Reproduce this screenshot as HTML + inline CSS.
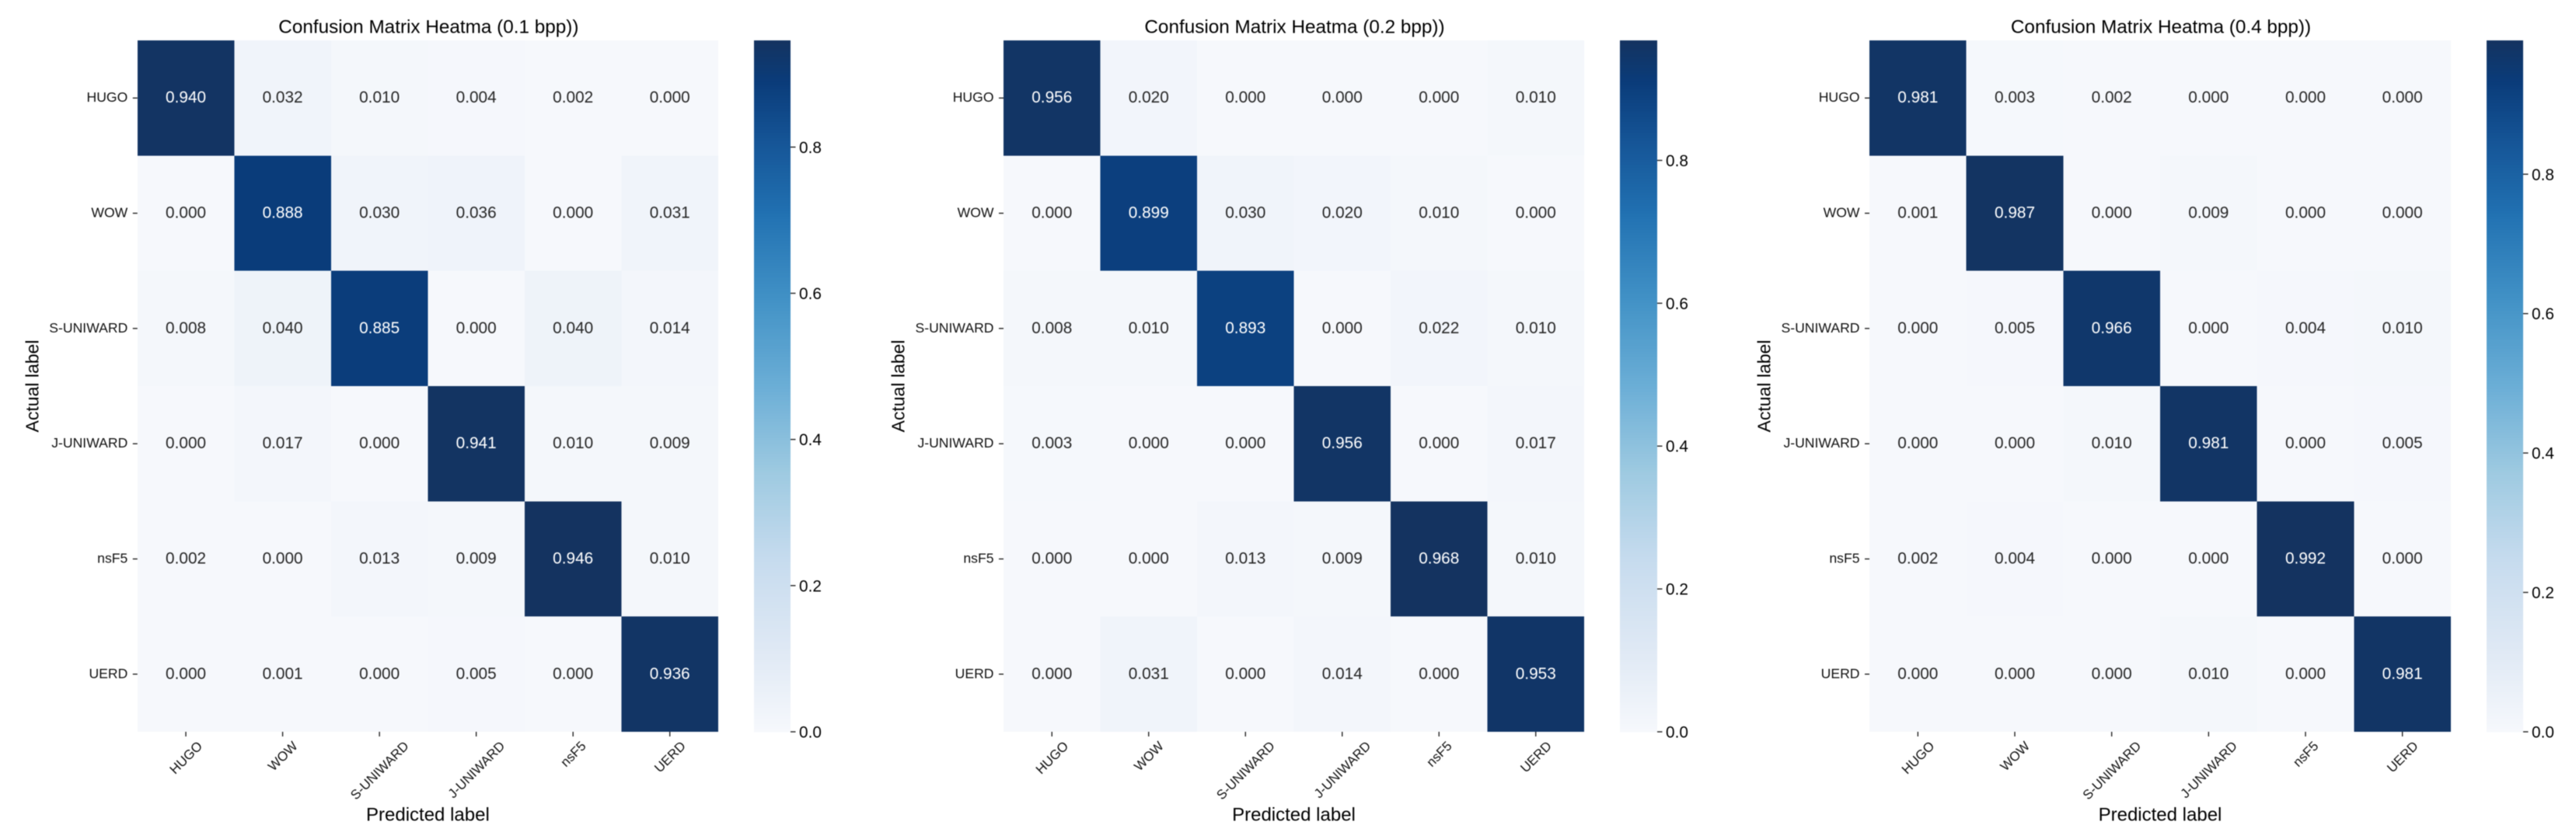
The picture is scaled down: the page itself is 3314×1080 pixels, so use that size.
<!DOCTYPE html>
<html lang="en">
<head>
<meta charset="utf-8">
<title>Confusion Matrix Heatmaps</title>
<style>
html,body{margin:0;padding:0;background:#fff;width:3314px;height:1080px;overflow:hidden}
svg{display:block;filter:blur(0.4px)}
text{font-family:"Liberation Sans",Arial,sans-serif}
</style>
</head>
<body>
<svg id="figure" xmlns="http://www.w3.org/2000/svg" width="3314" height="1080" viewBox="0 0 3314 1080"></svg>
<script>
const categories = ['HUGO', 'WOW', 'S-UNIWARD', 'J-UNIWARD', 'nsF5', 'UERD'];
const colorbarTicks = [0.0, 0.2, 0.4, 0.6, 0.8];
const titleLow = 'Confusion Matrix Heatma (0.1 bpp))';
const titleMid = 'Confusion Matrix Heatma (0.2 bpp))';
const titleHigh = 'Confusion Matrix Heatma (0.4 bpp))';
const valuesLow = [
  [0.940, 0.032, 0.010, 0.004, 0.002, 0.000],
  [0.000, 0.888, 0.030, 0.036, 0.000, 0.031],
  [0.008, 0.040, 0.885, 0.000, 0.040, 0.014],
  [0.000, 0.017, 0.000, 0.941, 0.010, 0.009],
  [0.002, 0.000, 0.013, 0.009, 0.946, 0.010],
  [0.000, 0.001, 0.000, 0.005, 0.000, 0.936]
];
const valuesMid = [
  [0.956, 0.020, 0.000, 0.000, 0.000, 0.010],
  [0.000, 0.899, 0.030, 0.020, 0.010, 0.000],
  [0.008, 0.010, 0.893, 0.000, 0.022, 0.010],
  [0.003, 0.000, 0.000, 0.956, 0.000, 0.017],
  [0.000, 0.000, 0.013, 0.009, 0.968, 0.010],
  [0.000, 0.031, 0.000, 0.014, 0.000, 0.953]
];
const valuesHigh = [
  [0.981, 0.003, 0.002, 0.000, 0.000, 0.000],
  [0.001, 0.987, 0.000, 0.009, 0.000, 0.000],
  [0.000, 0.005, 0.966, 0.000, 0.004, 0.010],
  [0.000, 0.000, 0.010, 0.981, 0.000, 0.005],
  [0.002, 0.004, 0.000, 0.000, 0.992, 0.000],
  [0.000, 0.000, 0.000, 0.010, 0.000, 0.981]
];

const NS = 'http://www.w3.org/2000/svg';
const svg = document.getElementById('figure');
const blues = [
  [246, 248, 252], [222, 232, 244], [198, 219, 238], [158, 202, 225], [107, 174, 214],
  [66, 146, 198], [33, 113, 178], [22, 86, 152], [10, 60, 122], [20, 51, 96]
];
const blueStops = [0, 0.125, 0.25, 0.375, 0.5, 0.625, 0.75, 0.85, 0.94, 1];

function colorAt(t) {
  const c = Math.max(0, Math.min(1, t));
  let i = 0;
  while (i < blueStops.length - 2 && c > blueStops[i + 1]) i++;
  const f = (c - blueStops[i]) / (blueStops[i + 1] - blueStops[i]);
  const a = blues[i], b = blues[i + 1];
  return 'rgb(' + [0, 1, 2].map(k => Math.round(a[k] + (b[k] - a[k]) * f)).join(',') + ')';
}

function make(tag, attrs, parent, content) {
  const el = document.createElementNS(NS, tag);
  Object.keys(attrs).forEach(k => el.setAttribute(k, attrs[k]));
  if (content !== undefined) el.textContent = content;
  parent.appendChild(el);
  return el;
}

function drawPanel(key, title, values, left, right, cbLeft, cbRight) {
  const top = 52, bottom = 942;
  const vmax = Math.max.apply(null, values.map(r => Math.max.apply(null, r)));
  const n = categories.length;
  const xCell = i => left + (right - left) * i / n;
  const yCell = i => top + (bottom - top) * i / n;
  const yBar = v => bottom - (bottom - top) * v / vmax;
  const cx = (left + right) / 2;

  const g = make('g', {}, svg);
  
  

  const titleEl = make('text', {x: cx + 1, y: 42.5, 'font-size': 24.3, 'text-anchor': 'middle', fill: '#000'}, g, title);
  
  

  values.forEach((row, r) => {
    row.forEach((v, c) => {
      const cell = make('rect', {
        x: xCell(c), y: yCell(r), width: xCell(c + 1) - xCell(c), height: yCell(r + 1) - yCell(r),
        fill: colorAt(v / vmax), 'shape-rendering': 'crispEdges'
      }, g);
      
      
      const label = make('text', {
        x: xCell(c + 0.5), y: yCell(r + 0.5) + 6, 'font-size': 20.8, 'text-anchor': 'middle',
        fill: v / vmax > 0.5 ? '#ffffff' : '#262626'
      }, g, v.toFixed(3));
      
      
    });
  });

  categories.forEach((name, i) => {
    const ty = yCell(i + 0.5);
    const yTick = make('line', {x1: left - 6, x2: left, y1: ty, y2: ty, stroke: '#222', 'stroke-width': 1.4}, g);
    
    
    const yLabel = make('text', {x: left - 12.5, y: ty + 5, 'font-size': 17.6, 'text-anchor': 'end', fill: '#111'}, g, name);
    
    

    const tx = xCell(i + 0.5);
    const xTick = make('line', {x1: tx, x2: tx, y1: bottom, y2: bottom + 6, stroke: '#222', 'stroke-width': 1.4}, g);
    
    
    const xLabel = make('text', {x: tx, y: 0, 'font-size': 17, 'text-anchor': 'middle', fill: '#111'}, g, name);
    
    
    const w = xLabel.getComputedTextLength();
    const yc = 955 + (w + 6) * 0.3535;
    xLabel.setAttribute('y', yc + 6);
    xLabel.setAttribute('transform', 'rotate(-45 ' + tx + ' ' + yc + ')');
  });

  const xTitle = make('text', {x: cx, y: 1056.5, 'font-size': 24, 'text-anchor': 'middle', fill: '#000'}, g, 'Predicted label');
  
  
  const yMid = (top + bottom) / 2;
  const yTitleX = left - 127.5;
  const yTitle = make('text', {x: yTitleX, y: yMid, 'font-size': 23, 'text-anchor': 'middle', fill: '#000', transform: 'rotate(-90 ' + yTitleX + ' ' + yMid + ')'}, g, 'Actual label');
  
  

  const bar = make('g', {}, g);
  
  
  const steps = 256;
  for (let s = 0; s < steps; s++) {
    const vHi = vmax * (s + 1) / steps, vLo = vmax * s / steps;
    make('rect', {
      x: cbLeft, y: yBar(vHi), width: cbRight - cbLeft, height: yBar(vLo) - yBar(vHi) + 0.5,
      fill: colorAt((s + 0.5) / steps)
    }, bar);
  }
  colorbarTicks.forEach(v => {
    const y = yBar(v);
    const tick = make('line', {x1: cbRight, x2: cbRight + 6.5, y1: y, y2: y, stroke: '#222', 'stroke-width': 1.4}, g);
    
    
    const lbl = make('text', {x: cbRight + 11, y: y + 7.5, 'font-size': 20.8, fill: '#000'}, g, v.toFixed(1));
    
    
  });
}

drawPanel('0-1-bpp', titleLow, valuesLow, 176.8, 924, 970, 1017);
drawPanel('0-2-bpp', titleMid, valuesMid, 1291, 2038, 2084, 2132);
drawPanel('0-4-bpp', titleHigh, valuesHigh, 2405, 3153, 3199, 3246);
</script>
</body>
</html>
